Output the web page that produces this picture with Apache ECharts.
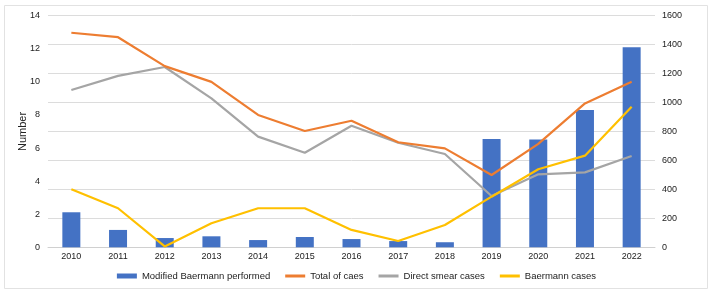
<!DOCTYPE html>
<html>
<head>
<meta charset="utf-8">
<script src="https://cdn.jsdelivr.net/npm/echarts@6/dist/echarts.min.js"></script>
<style>
html,body{margin:0;padding:0;background:#fff;}
#c{width:713px;height:295px;}
</style>
</head>
<body>
<div id="c"></div>
<script>
var years = ['2010','2011','2012','2013','2014','2015','2016','2017','2018','2019','2020','2021','2022'];
var modifiedBaermann = [242, 120, 64, 76, 50, 71, 57, 43, 35, 748, 744, 949, 1382];
var totalCases = [12.97, 12.7, 10.95, 10.0, 8.0, 7.03, 7.65, 6.35, 5.98, 4.37, 6.25, 8.7, 10.0];
var directSmear = [9.51, 10.36, 10.9, 9.0, 6.69, 5.72, 7.35, 6.32, 5.64, 3.1, 4.41, 4.53, 5.52];
var baermannCases = [3.51, 2.36, 0.05, 1.45, 2.36, 2.36, 1.05, 0.38, 1.35, 3.06, 4.72, 5.54, 8.5];
var leftTicks = {min: 0, max: 14, interval: 2};
var rightTicks = {min: 0, max: 1600, interval: 200};

var font = '"Liberation Sans", Arial, sans-serif';
var lineIcon = 'path://M0,0h20v3h-20z';
var chart = echarts.init(document.getElementById('c'), null, {renderer: 'canvas'});
chart.setOption({
  animation: false,
  backgroundColor: '#fff',
  textStyle: {fontFamily: font, color: '#222'},
  graphic: [{
    type: 'rect', shape: {x: 4.5, y: 5.5, width: 703, height: 283},
    style: {fill: 'none', stroke: '#e2e2e2', lineWidth: 1}, z: -1
  }],
  grid: {left: 48, right: 58, top: 15.7, bottom: 47.7},
  legend: {
    bottom: 9, left: 'center', itemGap: 15, itemWidth: 20, itemHeight: 5,
    textStyle: {fontFamily: font, fontSize: 9.5, color: '#222'},
    data: [
      {name: 'Modified Baermann performed', icon: 'rect'},
      {name: 'Total of caes', icon: lineIcon},
      {name: 'Direct smear cases', icon: lineIcon},
      {name: 'Baermann cases', icon: lineIcon}
    ]
  },
  xAxis: {
    type: 'category', data: years,
    axisLine: {lineStyle: {color: '#d0d0d0', width: 1}},
    axisTick: {show: false},
    axisLabel: {fontFamily: font, fontSize: 9, color: '#222', margin: 5}
  },
  yAxis: [{
    type: 'value', min: leftTicks.min, max: leftTicks.max, interval: leftTicks.interval,
    name: 'Number', nameLocation: 'middle', nameGap: 20, nameRotate: 90, nameMoveOverlap: false,
    nameTextStyle: {fontFamily: font, fontSize: 11, color: '#222'},
    axisLine: {show: false}, axisTick: {show: false}, splitLine: {show: false},
    axisLabel: {fontFamily: font, fontSize: 9, color: '#222', margin: 8}
  }, {
    type: 'value', min: rightTicks.min, max: rightTicks.max, interval: rightTicks.interval,
    position: 'right',
    axisLine: {show: false}, axisTick: {show: false},
    splitLine: {show: true, lineStyle: {color: '#dcdcdc', width: 1}},
    axisLabel: {fontFamily: font, fontSize: 9, color: '#222', margin: 7,
      formatter: function (v) { return String(v); }}
  }],
  series: [{
    name: 'Modified Baermann performed', type: 'bar', yAxisIndex: 1,
    data: modifiedBaermann, barWidth: 18,
    itemStyle: {color: '#4472C4'}, z: 1
  }, {
    name: 'Total of caes', type: 'line', yAxisIndex: 0, data: totalCases,
    symbol: 'none', lineStyle: {color: '#ED7D31', width: 2.2}, itemStyle: {color: '#ED7D31'}, z: 3
  }, {
    name: 'Direct smear cases', type: 'line', yAxisIndex: 0, data: directSmear,
    symbol: 'none', lineStyle: {color: '#A5A5A5', width: 2.2}, itemStyle: {color: '#A5A5A5'}, z: 2
  }, {
    name: 'Baermann cases', type: 'line', yAxisIndex: 0, data: baermannCases,
    symbol: 'none', lineStyle: {color: '#FFC000', width: 2.2}, itemStyle: {color: '#FFC000'}, z: 4
  }]
});
</script>
</body>
</html>
